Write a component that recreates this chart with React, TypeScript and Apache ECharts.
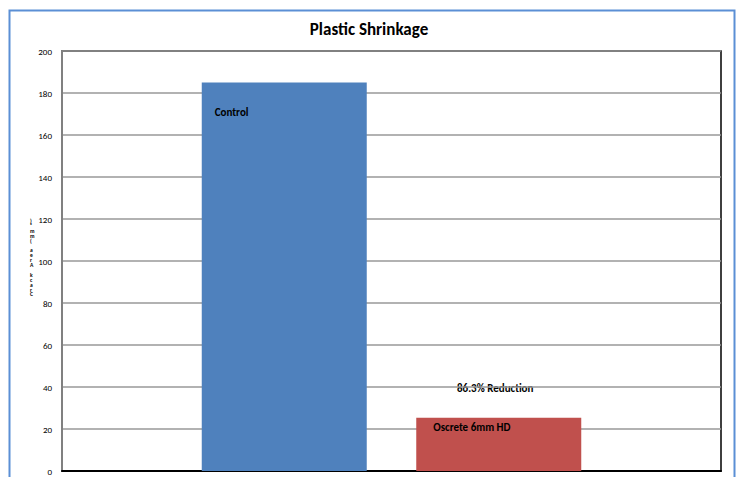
import React, { useEffect, useRef } from "react";
import * as echarts from "echarts";

const seriesNames = ["Control", "Oscrete 6mm HD"];
const seriesValues = [185, 25.3];
const seriesColors = ["#4f81bd", "#c0504d"];
const yTicks = { min: 0, max: 200, interval: 20 };
const titleText = "Plastic Shrinkage";
const yAxisTitle = "Crack Area (mm²)";
const annotation = "86.3% Reduction";

const FONT = "Carlito, Lato, 'Open Sans', sans-serif";

export default function App() {
  const ref = useRef<HTMLDivElement>(null);
  useEffect(() => {
    if (!ref.current) return;
    const chart = echarts.init(ref.current, undefined, { renderer: "svg" });
    const labelOffsets = [
      [13, 24],
      [17, 4],
    ];
    const stacked = yAxisTitle.split("").reverse().join("\n");
    chart.setOption({
      animation: false,
      textStyle: { fontFamily: FONT },
      title: {
        text: titleText,
        left: "center",
        top: 16,
        textStyle: { fontSize: 17, fontWeight: "bold", color: "#000", fontFamily: FONT },
      },
      grid: {
        left: 62,
        right: 17,
        top: 51,
        bottom: 6,
        show: true,
        borderColor: "#000",
        borderWidth: 1.5,
        backgroundColor: "#fff",
      },
      xAxis: {
        type: "category",
        data: [""],
        axisLine: { show: true, lineStyle: { color: "#000", width: 2 } },
        axisTick: { show: false },
        axisLabel: { show: false },
      },
      yAxis: {
        type: "value",
        min: yTicks.min,
        max: yTicks.max,
        interval: yTicks.interval,
        axisLine: { show: true, lineStyle: { color: "#808080", width: 2 } },
        axisTick: { show: false },
        axisLabel: { fontSize: 9, color: "#000", margin: 10, fontFamily: FONT },
        splitLine: { lineStyle: { color: "#999", width: 1.5 } },
      },
      series: seriesNames.map((name, i) => ({
        type: "bar",
        name,
        data: [seriesValues[i]],
        barWidth: 165,
        barGap: "30%",
        itemStyle: { color: seriesColors[i] },
        label: {
          show: true,
          position: labelOffsets[i],
          formatter: name,
          fontSize: 11,
          fontWeight: "bold",
          color: "#000",
          fontFamily: FONT,
        },
      })),
      graphic: [
        {
          type: "rect",
          shape: { x: 9.5, y: 10.5, width: 725, height: 480 },
          style: { fill: "none", stroke: "#5b8fd5", lineWidth: 2 },
          silent: true,
          z: 10,
        },
        {
          type: "text",
          left: 457,
          top: 383,
          style: {
            text: annotation,
            fontSize: 11,
            fontWeight: "bold",
            fill: "#000",
            fontFamily: FONT,
          },
        },
        {
          type: "text",
          left: 30,
          top: 218,
          style: {
            text: stacked,
            fontSize: 5.5,
            lineHeight: 4.9,
            fontWeight: "bold",
            fill: "#000",
            fontFamily: FONT,
            align: "left",
          },
        },
      ],
    });
    return () => chart.dispose();
  }, []);
  return (
    <div
      ref={ref}
      style={{ position: "fixed", left: 0, top: 0, width: 738, height: 477, background: "#fff" }}
    />
  );
}
